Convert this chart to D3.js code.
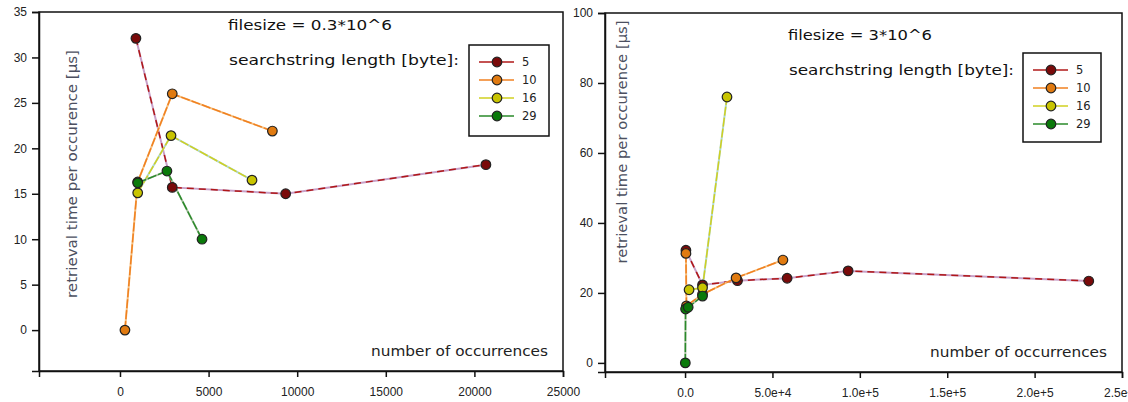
<!DOCTYPE html>
<html>
<head>
<meta charset="utf-8">
<script src="https://cdn.jsdelivr.net/npm/d3@7.9.0/dist/d3.min.js"></script>
<style>
  body { margin: 0; background: #fff; }
  svg { display: block; font-family: "DejaVu Sans", Verdana, sans-serif; }
</style>
</head>
<body>
<svg id="chart" width="1128" height="402"></svg>
<script>
// searchstring lengths (legend)
const lengths = ['5', '10', '16', '29'];

// filesize = 0.3*10^6
const small5x = [900, 2950, 9350, 20650];
const small5y = [32.1, 15.7, 15.0, 18.2];
const small10x = [280, 1000, 2950, 8600];
const small10y = [0, 16.3, 26.0, 21.9];
const small16x = [1000, 2880, 7450];
const small16y = [15.1, 21.4, 16.5];
const small29x = [1000, 2650, 4630];
const small29y = [16.2, 17.5, 10.0];

// filesize = 3*10^6
const big5x = [500, 10000, 30000, 58400, 93300, 231000];
const big5y = [32.2, 22.3, 23.5, 24.2, 26.3, 23.4];
const big10x = [500, 800, 10000, 29200, 56000];
const big10y = [31.3, 16.3, 19.6, 24.3, 29.4];
const big16x = [2300, 10000, 24000];
const big16y = [20.9, 21.5, 76.0];
const big29x = [150, 300, 1800, 10000];
const big29y = [0, 15.4, 15.9, 19.1];

const smallXTicks = [0, 5000, 10000, 15000, 20000, 25000];
const smallYTicks = [0, 5, 10, 15, 20, 25, 30, 35];
const bigXTicks = [0, 50000, 100000, 150000, 200000, 250000];
const bigXLabels = ['0.0', '5.0e+4', '1.0e+5', '1.5e+5', '2.0e+5', '2.5e+5'];
const bigYTicks = [0, 20, 40, 60, 80, 100];

const zip = (xs, ys) => xs.map((x, i) => ({ x, y: ys[i] }));

const markerFill = ['#7a0a0a', '#e07a10', '#c8c400', '#0a7a0a'];
const lineMain = ['#b01818', '#f08020', '#d0d020', '#2a8a2a'];
const lineBack = ['#c8a0c8', '#f6c080', '#b0d8d0', '#a8c0a0'];

const svg = d3.select('#chart');

function label(g, x, y, str, size, len, anchor, fill) {
  return g.append('text').attr('x', x).attr('y', y)
    .attr('text-anchor', anchor || 'start').attr('fill', fill || '#111')
    .attr('textLength', len).attr('lengthAdjust', 'spacingAndGlyphs')
    .style('font-size', size + 'px').text(str);
}

function panel(cfg) {
  const g = svg.append('g');
  const x = d3.scaleLinear().domain(cfg.xDomain).range([cfg.left, cfg.right]);
  const y = d3.scaleLinear().domain(cfg.yDomain).range([cfg.bottom, cfg.top]);

  // frame
  g.append('rect')
    .attr('x', cfg.left).attr('y', cfg.top)
    .attr('width', cfg.right - cfg.left).attr('height', cfg.bottom - cfg.top)
    .attr('fill', 'none').attr('stroke', '#111').attr('stroke-width', 1.5);

  const xAxis = d3.axisBottom(x).tickValues(cfg.xTicks).tickSize(6).tickPadding(10)
    .tickFormat((d, i) => cfg.xLabels ? cfg.xLabels[i] : d);
  const yAxis = d3.axisLeft(y).tickValues(cfg.yTicks).tickSize(7).tickPadding(5);

  const gx = g.append('g').attr('transform', `translate(0,${cfg.bottom})`).call(xAxis);
  const gy = g.append('g').attr('transform', `translate(${cfg.left},0)`).call(yAxis);
  [gx, gy].forEach(a => {
    a.select('.domain').attr('stroke', '#111').attr('stroke-width', 1.5);
    a.selectAll('.tick line').attr('stroke', '#111').attr('stroke-width', 1.5);
    a.selectAll('.tick text').attr('fill', '#222').style('font-size', '12px');
  });

  const line = d3.line().x(d => x(d.x)).y(d => y(d.y));

  cfg.series.forEach((s, i) => {
    g.append('path').attr('d', line(s)).attr('fill', 'none')
      .attr('stroke', lineBack[i]).attr('stroke-width', 2);
    g.append('path').attr('d', line(s)).attr('fill', 'none')
      .attr('stroke', lineMain[i]).attr('stroke-width', 1.5)
      .attr('stroke-dasharray', i === 0 ? '7,5' : '9,2');
  });
  cfg.series.forEach((s, i) => {
    g.selectAll(null).data(s).join('circle')
      .attr('cx', d => x(d.x)).attr('cy', d => y(d.y)).attr('r', 4.8)
      .attr('fill', markerFill[i]).attr('stroke', '#222').attr('stroke-width', 1.2);
  });

  // y label
  const yl = g.append('g').attr('transform', `translate(${cfg.yLabelX},${cfg.yLabelY}) rotate(-90)`);
  label(yl, 0, 0, 'retrieval time per occurence [\u00b5s]', 13.5, cfg.yLabelLen, 'middle', '#4c5060');

  label(g, cfg.titleX, cfg.titleY, cfg.title, 14.5, cfg.titleLen);
  label(g, cfg.titleX + 1, cfg.titleY + 35, 'searchstring length [byte]:', 14.5, cfg.searchLen);

  label(g, cfg.right - 15, cfg.bottom - 15, 'number of occurrences', 14, 177, 'end', '#222');

  // legend
  const lg = g.append('g').attr('transform', `translate(${cfg.legX},${cfg.legY})`);
  lg.append('rect').attr('width', cfg.legW).attr('height', cfg.legH)
    .attr('fill', '#fff').attr('stroke', '#111').attr('stroke-width', 1.5);
  lengths.forEach((name, i) => {
    const yy = cfg.legRow0 + i * cfg.legStep;
    lg.append('line').attr('x1', 10).attr('x2', 45).attr('y1', yy).attr('y2', yy)
      .attr('stroke', lineMain[i]).attr('stroke-width', 1.6);
    lg.append('circle').attr('cx', 28).attr('cy', yy).attr('r', 4.8)
      .attr('fill', markerFill[i]).attr('stroke', '#222').attr('stroke-width', 1.2);
    lg.append('text').attr('x', 53).attr('y', yy + 4)
      .attr('fill', '#222').style('font-size', '11.5px').text(name);
  });
}

panel({
  left: 39, right: 563, top: 12, bottom: 371,
  xDomain: [-4570, 25000], yDomain: [-4.5, 35],
  xTicks: smallXTicks, yTicks: smallYTicks,
  series: [zip(small5x, small5y), zip(small10x, small10y), zip(small16x, small16y), zip(small29x, small29y)],
  yLabelX: 77, yLabelY: 174, yLabelLen: 248,
  title: 'filesize = 0.3*10^6', titleX: 228, titleY: 30, titleLen: 164, searchLen: 230,
  legX: 469, legY: 45, legW: 80, legH: 91, legRow0: 17, legStep: 18
});

panel({
  left: 605, right: 1122, top: 13, bottom: 372,
  xDomain: [-45800, 250000], yDomain: [-2.6, 100],
  xTicks: bigXTicks, xLabels: bigXLabels, yTicks: bigYTicks,
  series: [zip(big5x, big5y), zip(big10x, big10y), zip(big16x, big16y), zip(big29x, big29y)],
  yLabelX: 627, yLabelY: 142, yLabelLen: 243,
  title: 'filesize = 3*10^6', titleX: 788, titleY: 40, titleLen: 144, searchLen: 225,
  legX: 1023, legY: 53, legW: 78, legH: 89, legRow0: 17, legStep: 18
});
</script>
</body>
</html>
